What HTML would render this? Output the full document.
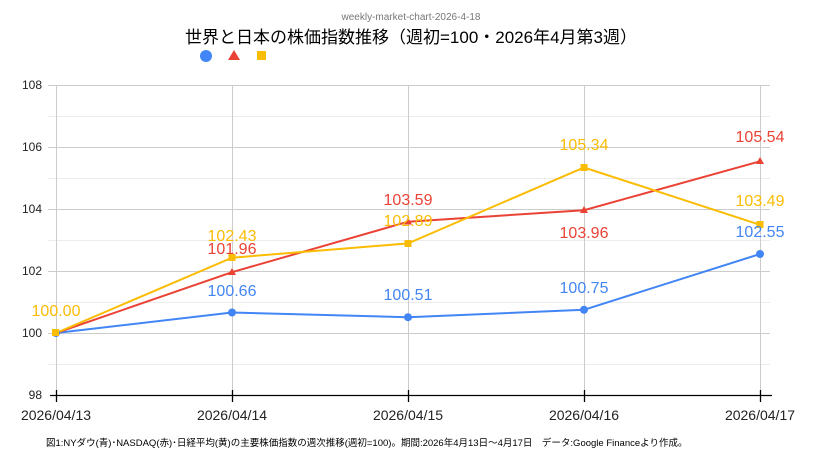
<!DOCTYPE html>
<html><head><meta charset="utf-8"><style>
body{margin:0;background:#fff;width:822px;height:468px;overflow:hidden}
text{font-family:"Liberation Sans","Noto Sans CJK JP",sans-serif}
</style></head><body>
<svg width="822" height="468" xmlns="http://www.w3.org/2000/svg">
<text x="411" y="20" font-size="10" fill="#777" text-anchor="middle">weekly-market-chart-2026-4-18</text>
<text x="411" y="43" font-size="17" fill="#000" text-anchor="middle">世界と日本の株価指数推移（週初=100・2026年4月第3週）</text>
<circle cx="206" cy="56" r="6" fill="#4285f4"/>
<polygon points="234,50 240,60 228,60" fill="#ea4335"/>
<rect x="257" y="51" width="9" height="9" fill="#fbbc04"/>
<g stroke="#ececec" stroke-width="1">
<line x1="48" x2="770" y1="116.5" y2="116.5"/><line x1="48" x2="770" y1="178.5" y2="178.5"/><line x1="48" x2="770" y1="240.5" y2="240.5"/><line x1="48" x2="770" y1="302.5" y2="302.5"/><line x1="48" x2="770" y1="364.5" y2="364.5"/>
</g>
<g stroke="#ccc" stroke-width="1">
<line x1="48" x2="770" y1="85.5" y2="85.5"/><line x1="48" x2="770" y1="147.5" y2="147.5"/><line x1="48" x2="770" y1="209.5" y2="209.5"/><line x1="48" x2="770" y1="271.5" y2="271.5"/><line x1="48" x2="770" y1="333.5" y2="333.5"/>
<line x1="56.5" x2="56.5" y1="85" y2="395"/><line x1="232.5" x2="232.5" y1="85" y2="395"/><line x1="408.5" x2="408.5" y1="85" y2="395"/><line x1="584.5" x2="584.5" y1="85" y2="395"/><line x1="760.5" x2="760.5" y1="85" y2="395"/>
</g>
<g stroke="#000" stroke-width="1.3">
<line x1="50" x2="772" y1="395.5" y2="395.5"/>
<line x1="56.5" x2="56.5" y1="390" y2="402"/><line x1="232.5" x2="232.5" y1="390" y2="402"/><line x1="408.5" x2="408.5" y1="390" y2="402"/><line x1="584.5" x2="584.5" y1="390" y2="402"/><line x1="760.5" x2="760.5" y1="390" y2="402"/>
</g>
<g font-size="12" fill="#222" text-anchor="end">
<text x="42" y="89">108</text><text x="42" y="151">106</text><text x="42" y="213">104</text><text x="42" y="275">102</text><text x="42" y="337">100</text><text x="42" y="399">98</text>
</g>
<g font-size="14" fill="#222" text-anchor="middle">
<text x="56" y="420">2026/04/13</text><text x="232" y="420">2026/04/14</text><text x="408" y="420">2026/04/15</text><text x="584" y="420">2026/04/16</text><text x="760" y="420">2026/04/17</text>
</g>
<polyline fill="none" stroke="#4285f4" stroke-width="2" points="56,333 232,312.5 408,317.2 584,309.8 760,254"/>
<polyline fill="none" stroke="#ea4335" stroke-width="2" points="56,333 232,272.2 408,221.7 584,210.2 760,161.3"/>
<polyline fill="none" stroke="#fbbc04" stroke-width="2" points="56,333 232,257.7 408,243.4 584,167.5 760,224.8"/>
<g fill="#4285f4"><circle cx="56" cy="333" r="4"/><circle cx="232" cy="312.5" r="4"/><circle cx="408" cy="317.2" r="4"/><circle cx="584" cy="309.8" r="4"/><circle cx="760" cy="254" r="4"/></g>
<g fill="#ea4335"><polygon points="232,268 236,275 228,275"/><polygon points="408,217.5 412,224.5 404,224.5"/><polygon points="584,206 588,213 580,213"/><polygon points="760,157 764,164 756,164"/></g>
<g fill="#fbbc04"><rect x="52" y="329" width="7" height="7"/><rect x="228.5" y="254" width="7" height="7"/><rect x="404.5" y="240" width="7" height="7"/><rect x="580.5" y="164" width="7" height="7"/><rect x="756.5" y="221" width="7" height="7"/></g>
<g font-size="16" text-anchor="middle">
<text x="56" y="316" fill="#fbbc04">100.00</text>
<text x="232" y="296" fill="#4285f4">100.66</text><text x="408" y="300" fill="#4285f4">100.51</text><text x="584" y="293" fill="#4285f4">100.75</text><text x="760" y="237" fill="#4285f4">102.55</text>
<text x="232" y="254" fill="#ea4335">101.96</text><text x="408" y="205" fill="#ea4335">103.59</text><text x="584" y="238" fill="#ea4335">103.96</text><text x="760" y="142" fill="#ea4335">105.54</text>
<text x="232" y="241" fill="#fbbc04">102.43</text><text x="408" y="226" fill="#fbbc04">102.89</text><text x="584" y="150" fill="#fbbc04">105.34</text><text x="760" y="206" fill="#fbbc04">103.49</text>
</g>
<text x="46" y="446" font-size="9.5" fill="#000">図1:NYダウ(青)･NASDAQ(赤)･日経平均(黄)の主要株価指数の週次推移(週初=100)。期間:2026年4月13日～4月17日　データ:Google Financeより作成。</text>
</svg>
</body></html>
